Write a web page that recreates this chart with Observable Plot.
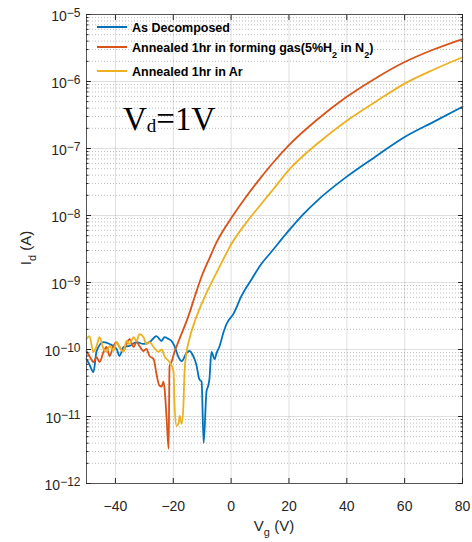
<!DOCTYPE html>
<html><head><meta charset="utf-8">
<script src="https://cdn.jsdelivr.net/npm/d3@7"></script>
<script src="https://cdn.jsdelivr.net/npm/@observablehq/plot@0.6"></script>
<style>body{margin:0;background:#fff}</style>
</head><body><div id="chart"></div>
<script>
// ---- data ----
const seriesNames = ["As Decomposed", "Annealed 1hr in forming gas(5%H2 in N2)", "Annealed 1hr in Ar"];
const seriesColors = ["#0072BD", "#D95319", "#EDB120"];

const blueV = [-50,-49,-47.6,-46.5,-44.1,-42,-39.6,-38.6,-37.2,-35.1,-32.7,-30.3,-28.2,-25.8,-24.1,-23,-21.6,-20.6,-19.6,-18.2,-17.1,-15.4,-14.4,-13,-12,-11,-10.2,-9.5,-8.5,-8,-7.5,-6.8,-5.7,-5,-4,-2.6,-1.6,0.8,3.6,7.1,10,14,20,25,30,40,50,60,70,80];
const blueI = [7.2e-11,6.0e-11,4.6e-11,9.5e-11,1.29e-10,1.21e-10,1.02e-10,8.0e-11,1.09e-10,1.13e-10,1.29e-10,1.21e-10,1.29e-10,1.58e-10,1.34e-10,1.53e-10,1.43e-10,1.34e-10,1.13e-10,7.7e-11,6.7e-11,8.9e-11,9.5e-11,7.8e-11,5.9e-11,3.6e-11,3.3e-11,4.0e-12,2.4e-11,2.8e-11,3.6e-11,9.2e-11,7.2e-11,8.9e-11,1.12e-10,1.82e-10,2.4e-10,3.4e-10,6.3e-10,1.12e-9,1.78e-9,2.9e-9,6.0e-9,1.05e-8,1.7e-8,3.8e-8,7.6e-8,1.48e-7,2.5e-7,4.2e-7];

const redV = [-50,-49,-47.6,-46.5,-45.5,-44.1,-43.1,-42,-40.7,-39.6,-38.6,-37.2,-36.2,-35.1,-33.7,-32.7,-31.7,-30.3,-29.3,-28.2,-26.8,-25.8,-24.8,-24,-23.4,-23,-22.3,-21.6,-21.3,-20.6,-19.6,-17.8,-14.7,-12.5,-10.2,-7.5,-5,-2.5,0,5,10,15,20,30,40,50,60,70,80];
const redI = [9.5e-11,8.0e-11,6.5e-11,7.7e-11,6.5e-11,9.2e-11,1.09e-10,8.0e-11,1.13e-10,1.29e-10,1.09e-10,9.5e-11,1.21e-10,1.43e-10,1.09e-10,1.29e-10,1.13e-10,9.5e-11,1.02e-10,8.0e-11,7.2e-11,4.3e-11,2.9e-11,2.8e-11,3.3e-11,2.6e-11,9.3e-12,3.3e-12,5.6e-11,6.5e-11,9.1e-11,1.45e-10,3.2e-10,6.3e-10,1.23e-9,2.3e-9,4.0e-9,6.2e-9,9.1e-9,1.86e-8,3.55e-8,6.5e-8,1.12e-7,2.75e-7,5.9e-7,1.12e-6,1.95e-6,3.0e-6,4.3e-6];

const yellowV = [-50,-49,-47.6,-46.5,-45.5,-44.1,-43.1,-42,-40.7,-39.6,-38.6,-37.2,-36.2,-35.1,-33.7,-32.7,-31.7,-30.3,-29.3,-28.2,-26.8,-25.1,-24,-23,-21.3,-19.9,-19.6,-18.9,-18.2,-17.8,-17.1,-16.5,-16.1,-15.4,-14.4,-12.6,-9.2,-4.4,0,5,10,15,20,30,40,50,60,70,80];
const yellowI = [1.43e-10,1.58e-10,9.2e-11,1.13e-10,1.53e-10,1.02e-10,9.2e-11,1.13e-10,9.5e-11,1.29e-10,1.09e-10,9.2e-11,1.34e-10,1.21e-10,1.53e-10,1.34e-10,1.7e-10,1.53e-10,1.21e-10,1.29e-10,1.09e-10,9.2e-11,1.0e-10,7.9e-11,6.5e-11,4.7e-11,1.66e-11,7.2e-12,7.8e-12,1.02e-11,7.8e-12,1.45e-11,4.7e-11,9.1e-11,1.45e-10,2.6e-10,6.0e-10,1.58e-9,3.7e-9,7.6e-9,1.41e-8,2.6e-8,4.8e-8,1.2e-7,2.6e-7,5.0e-7,9.3e-7,1.5e-6,2.3e-6];

const xTicks = [-40, -20, 0, 20, 40, 60, 80];
const yTicks = [1e-12, 1e-11, 1e-10, 1e-9, 1e-8, 1e-7, 1e-6, 1e-5];

// ---- build table ----
const seriesData = [[blueV, blueI], [redV, redI], [yellowV, yellowI]];
const rows = [];
seriesData.forEach(([vs, is], k) => vs.forEach((v, j) => rows.push({series: seriesNames[k], v, i: is[j]})));
const yMinor = [];
yTicks.slice(0, -1).forEach(d => { for (let m = 2; m <= 9; m++) yMinor.push(d * m); });

const ink = "#262626";
const blank = () => "";

const chart = Plot.plot({
  width: 472, height: 542,
  marginLeft: 86, marginRight: 10, marginTop: 14, marginBottom: 59,
  style: {fontFamily: "'Liberation Sans', Arial, sans-serif", background: "#fff", color: ink, overflow: "visible"},
  x: {domain: [-50, 80]},
  y: {type: "log", domain: [1e-12, 1e-5]},
  color: {domain: seriesNames, range: seriesColors},
  marks: [
    Plot.gridY(yMinor, {stroke: ink, strokeOpacity: 0.3, strokeDasharray: "1,2"}),
    Plot.gridY(yTicks, {stroke: ink, strokeOpacity: 0.15}),
    Plot.gridX(xTicks, {stroke: ink, strokeOpacity: 0.15}),
    Plot.line(rows, {x: "v", y: "i", z: "series", stroke: "series", strokeWidth: 1.8, curve: "monotone-x"}),
    Plot.frame({stroke: "#555"}),
    // inward ticks (box style)
    Plot.axisY(yTicks, {anchor: "left", tickSize: 5, dx: 5, tickFormat: blank, label: null, stroke: ink}),
    Plot.axisY(yTicks, {anchor: "right", tickSize: 5, dx: -5, tickFormat: blank, label: null, stroke: ink}),
    Plot.axisY(yMinor, {anchor: "left", tickSize: 2.5, dx: 2.5, tickFormat: blank, label: null, stroke: ink}),
    Plot.axisY(yMinor, {anchor: "right", tickSize: 2.5, dx: -2.5, tickFormat: blank, label: null, stroke: ink}),
    Plot.axisX(xTicks, {anchor: "bottom", tickSize: 5, dy: -5, tickFormat: blank, label: null, stroke: ink}),
    Plot.axisX(xTicks, {anchor: "top", tickSize: 5, dy: 5, tickFormat: blank, label: null, stroke: ink}),
    // tick labels
    Plot.axisY(yTicks, {anchor: "left", tickSize: 0, tickPadding: 6, dy: 2.5, fontSize: 14, label: null,
      tickFormat: d => "10|\u2212" + Math.abs(Math.round(Math.log10(d)))}),
    Plot.axisX(xTicks, {anchor: "bottom", tickSize: 0, tickPadding: 18, fontSize: 14, label: null})
  ]
});
document.getElementById("chart").appendChild(chart);

const svg = d3.select(chart);
// superscript exponents
svg.selectAll("text").each(function() {
  const t = this.textContent;
  if (!t.includes("|")) return;
  const [b, e] = t.split("|");
  const s = d3.select(this);
  s.text(b);
  s.append("tspan").attr("font-size", 12).attr("dy", "-0.4em").text(e);
});

// helper for text with subscripts: parts = [[text, isSub], ...]
function richText(sel, parts, subSize, subShift) {
  let shifted = false;
  parts.forEach(([txt, sub]) => {
    const ts = sel.append("tspan").text(txt);
    if (sub && !shifted) { ts.attr("font-size", subSize).attr("dy", subShift); shifted = true; }
    else if (!sub && shifted) { ts.attr("dy", -subShift); shifted = false; }
  });
}

// legend
const legendParts = [
  [["As Decomposed", false]],
  [["Annealed 1hr in forming gas(5%H", false], ["2", true], [" in N", false], ["2", true], [")", false]],
  [["Annealed 1hr in Ar", false]]
];
const legendY = [27, 47, 71];
const leg = svg.append("g").attr("font-family", "'Liberation Sans', Arial, sans-serif").attr("font-weight", "bold")
  .attr("font-size", 12.5).attr("fill", "#000").attr("text-anchor", "start");
legendParts.forEach((parts, k) => {
  leg.append("line").attr("x1", 97).attr("x2", 127).attr("y1", legendY[k]).attr("y2", legendY[k])
    .attr("stroke", seriesColors[k]).attr("stroke-width", 2);
  const t = leg.append("text").attr("x", 132).attr("y", legendY[k] + 4.5).attr("text-anchor", "start");
  richText(t, parts, 9, 6);
});

// annotation V_d = 1V
const ann = svg.append("text").attr("x", 123).attr("y", 130).attr("text-anchor", "start")
  .attr("font-family", "'Liberation Serif', 'Times New Roman', serif").attr("font-size", 33).attr("fill", "#000");
richText(ann, [["V", false], ["d", true], ["=1V", false]], 19, 2);

// axis labels
const xl = svg.append("text").attr("x", 274).attr("y", 531).attr("text-anchor", "middle")
  .attr("font-size", 15).attr("fill", ink);
richText(xl, [["V", false], ["g", true], [" (V)", false]], 11, 5);
const yl = svg.append("text").attr("transform", "translate(31,248) rotate(-90)").attr("text-anchor", "middle")
  .attr("font-size", 15).attr("fill", ink);
richText(yl, [["I", false], ["d", true], [" (A)", false]], 11, 5);
</script>
</body></html>
